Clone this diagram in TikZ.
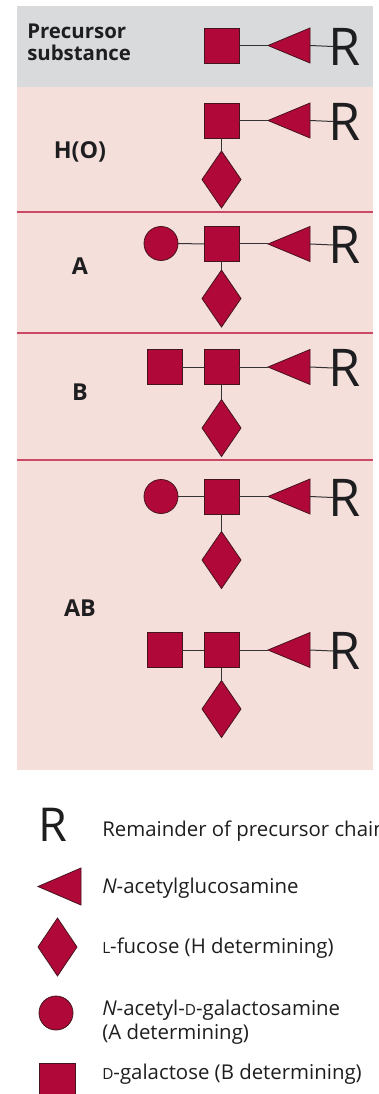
\documentclass[tikz,border=0pt]{standalone}
\usepackage{fontspec}
\setmainfont{Open Sans}
\usetikzlibrary{shapes.geometric}
\definecolor{sugar}{RGB}{176,8,56}
\definecolor{sugarline}{RGB}{70,20,30}
\definecolor{pinkbg}{RGB}{245,223,219}
\definecolor{greybg}{RGB}{217,218,220}
\definecolor{divider}{RGB}{204,74,102}
\definecolor{txt}{RGB}{30,30,32}
\newcommand\mysmallcap[1]{{\fontsize{11.5pt}{12pt}\selectfont #1}}
\begin{document}
\begin{tikzpicture}[x=0.75pt,y=-0.75pt,
 sugarbase/.style={fill=sugar,draw=sugarline,line width=0.6pt,inner sep=0pt,outer sep=0pt},
 gal/.style={sugarbase,rectangle,minimum size=26.25pt},
 galnac/.style={sugarbase,circle,minimum size=25.5pt},
 fuc/.style={sugarbase,diamond,minimum width=29.25pt,minimum height=42.75pt},
 glcnac/.style={sugarbase,isosceles triangle,isosceles triangle stretches,shape border rotate=180,minimum width=26.25pt,minimum height=31.5pt,anchor=apex},
 rem/.style={font=\fontsize{39}{39}\selectfont,text=txt,inner sep=0pt,outer xsep=-3.5pt,anchor=west},
 bond/.style={draw=black!80,line width=0.75pt},
 headlabel/.style={font=\fontsize{15.3}{16.5}\selectfont\bfseries,text=txt,inner sep=0pt},
 grouplabel/.style={font=\fontsize{17.5}{18}\selectfont\bfseries,text=txt,inner sep=0pt},
 legendtext/.style={font=\fontsize{15.3}{18}\selectfont,text=txt,anchor=base west,inner sep=0pt,align=left},
 ]
\useasboundingbox (0,0) rectangle (378,1094);
% backgrounds
\fill[greybg] (17,6) rectangle (373,87);
\fill[pinkbg] (17,87) rectangle (373,770);
\draw[divider,line width=0.9pt] (17,212) -- (373,212);
\draw[divider,line width=0.9pt] (17,333) -- (373,333);
\draw[divider,line width=0.9pt] (17,460) -- (373,460);

% group labels
\node[headlabel,anchor=base west,align=left] (lblP) at (27,61) {Precursor\\substance};
\node[grouplabel] (lblH) at (80,151.5) {H(O)};
\node[grouplabel] (lblA) at (80,266.5) {A};
\node[grouplabel] (lblB) at (80,392) {B};
\node[grouplabel] (lblAB) at (80,608.5) {AB};

% precursor
\node[gal] (pS) at (221.5,45.5) {};
\node[glcnac] (pT) at (268,45.5) {};
\node[rem] (pR) at (333,46.5) {R};
\draw[bond] (pS) -- (pT.apex);
\draw[bond] (pT.lower side) -- (pR.west);

% H(O)
\node[gal] (hS) at (221.5,120.5) {};
\node[glcnac] (hT) at (268,120.5) {};
\node[rem] (hR) at (333,121.5) {R};
\node[fuc] (hD) at (221.5,179.5) {};
\draw[bond] (hS) -- (hT.apex);
\draw[bond] (hT.lower side) -- (hR.west);
\draw[bond] (hS) -- (hD);

% A
\node[galnac] (aC) at (161,243.5) {};
\node[gal] (aS) at (221.5,244) {};
\node[glcnac] (aT) at (268,244) {};
\node[rem] (aR) at (333,245) {R};
\node[fuc] (aD) at (221.5,298.5) {};
\draw[bond] (aC) -- (aS);
\draw[bond] (aS) -- (aT.apex);
\draw[bond] (aT.lower side) -- (aR.west);
\draw[bond] (aS) -- (aD);

% B
\node[gal] (bG) at (164.5,367) {};
\node[gal] (bS) at (221.5,367) {};
\node[glcnac] (bT) at (268,367) {};
\node[rem] (bR) at (333,368) {R};
\node[fuc] (bD) at (221.5,428) {};
\draw[bond] (bG) -- (bS);
\draw[bond] (bS) -- (bT.apex);
\draw[bond] (bT.lower side) -- (bR.west);
\draw[bond] (bS) -- (bD);

% AB upper
\node[galnac] (abC) at (161,496.5) {};
\node[gal] (abS) at (221.5,496.5) {};
\node[glcnac] (abT) at (268,496.5) {};
\node[rem] (abR) at (333,497.5) {R};
\node[fuc] (abD) at (221.5,560) {};
\draw[bond] (abC) -- (abS);
\draw[bond] (abS) -- (abT.apex);
\draw[bond] (abT.lower side) -- (abR.west);
\draw[bond] (abS) -- (abD);

% AB lower
\node[gal] (baG) at (164.5,650) {};
\node[gal] (baS) at (221.5,650) {};
\node[glcnac] (baT) at (268,650) {};
\node[rem] (baR) at (333,651) {R};
\node[fuc] (baD) at (221.5,709) {};
\draw[bond] (baG) -- (baS);
\draw[bond] (baS) -- (baT.apex);
\draw[bond] (baT.lower side) -- (baR.west);
\draw[bond] (baS) -- (baD);

% legend
\node[rem,font=\fontsize{35}{35}\selectfont] (keyR) at (43,825) {R};
\node[legendtext] (keyRt) at (102,836) {Remainder of precursor chain};
\node[glcnac,minimum width=27.75pt,minimum height=32.25pt] (keyT) at (38,886.5) {};
\node[legendtext] (keyTt) at (102,893) {\textit{N}-acetylglucosamine};
\node[fuc,minimum height=43.5pt] (keyD) at (57.5,947) {};
\node[legendtext] (keyDt) at (102,953) {\mysmallcap{L}-fucose (H determining)};
\node[galnac] (keyC) at (56,1013) {};
\node[legendtext] (keyCt) at (102,1039) {\textit{N}-acetyl-\mysmallcap{D}-galactosamine\\(A determining)};
\node[gal,minimum size=27pt] (keyS) at (57.5,1081) {};
\node[legendtext] (keySt) at (102,1079) {\mysmallcap{D}-galactose (B determining)};
\end{tikzpicture}
\end{document}
